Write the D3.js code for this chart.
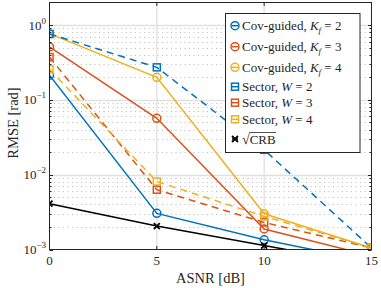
<!DOCTYPE html>
<html>
<head>
<meta charset="utf-8">
<script src="https://cdn.jsdelivr.net/npm/d3@7"></script>
<style>
  body { margin: 0; background: #fff; }
  text { font-family: "Liberation Serif", "DejaVu Serif", serif; fill: #262626; }
</style>
</head>
<body>
<div id="chart"></div>
<script>
// data
var asnr = [0, 5, 10, 15];
var covK2 = [0.213, 0.00304, 0.00135, 0.00069];
var covK3 = [0.509, 0.0566, 0.00188, 0.00082];
var covK4 = [0.767, 0.200, 0.0030, 0.00105];
var secW2 = [0.76, 0.272, 0.0215, 0.00105];
var secW3 = [0.373, 0.0063, 0.0023, 0.00105];
var secW4 = [0.256, 0.0081, 0.00277, 0.00105];
var crb = [0.0041, 0.00206, 0.00113, 0.00062];
var xTicks = [0, 5, 10, 15];
var yTicks = [1e-3, 1e-2, 1e-1, 1];
var yTickExp = ["−3", "−2", "−1", "0"];

var series = [
  { name: "cov", k: "2", vals: covK2, color: "#0072BD", dash: null, mark: "circle" },
  { name: "cov", k: "3", vals: covK3, color: "#D95319", dash: null, mark: "circle" },
  { name: "cov", k: "4", vals: covK4, color: "#EDB120", dash: null, mark: "circle" },
  { name: "sec", k: "2", vals: secW2, color: "#0072BD", dash: "7,5", mark: "square" },
  { name: "sec", k: "3", vals: secW3, color: "#D95319", dash: "7,5", mark: "square" },
  { name: "sec", k: "4", vals: secW4, color: "#EDB120", dash: "7,5", mark: "square" },
  { name: "crb", k: "", vals: crb, color: "#000000", dash: null, mark: "cross" }
];

var svgWidth = 381, svgHeight = 288;
var x0 = 49.5, x1 = 371.5, yTop = 2.5, yBot = 249.5;

var svg = d3.select("#chart").append("svg")
  .attr("width", svgWidth).attr("height", svgHeight);

var x = d3.scaleLinear().domain([0, 15]).range([x0, x1]);
var y = d3.scaleLog().domain([1e-3, 2]).range([yBot, yTop]);

// minor grid (dotted) and major grid
var minors = [];
[1e-3, 1e-2, 1e-1, 1].forEach(function(d) {
  for (var m = 2; m <= 9; m++) if (d * m < 2) minors.push(d * m);
});
svg.append("g").selectAll("line").data(minors).enter().append("line")
  .attr("x1", x0).attr("x2", x1)
  .attr("y1", d => Math.round(y(d)) + 0.5).attr("y2", d => Math.round(y(d)) + 0.5)
  .attr("stroke", "#bdbdbd").attr("stroke-width", 1).attr("stroke-dasharray", "1,3.5");

svg.append("g").selectAll("line").data(yTicks.slice(1)).enter().append("line")
  .attr("x1", x0).attr("x2", x1)
  .attr("y1", d => Math.round(y(d)) + 0.5).attr("y2", d => Math.round(y(d)) + 0.5)
  .attr("stroke", "#e0e0e0").attr("stroke-width", 1.3);
svg.append("g").selectAll("line").data([5, 10]).enter().append("line")
  .attr("y1", yTop).attr("y2", yBot)
  .attr("x1", d => x(d)).attr("x2", d => x(d))
  .attr("stroke", "#e0e0e0").attr("stroke-width", 1.3);

// lines and markers, clipped to the axes box
svg.append("clipPath").attr("id", "clip").append("rect")
  .attr("x", x0).attr("y", yTop).attr("width", x1 - x0).attr("height", yBot - yTop);
var plot = svg.append("g").attr("clip-path", "url(#clip)");

var line = d3.line().x((d, i) => x(asnr[i])).y(d => y(d));

function drawMarker(g, type, color, cx, cy) {
  if (type === "circle") {
    g.append("circle").attr("cx", cx).attr("cy", cy).attr("r", 4)
      .attr("fill", "none").attr("stroke", color).attr("stroke-width", 1.5);
  } else if (type === "square") {
    g.append("rect").attr("x", cx - 3.5).attr("y", cy - 3.5).attr("width", 7).attr("height", 7)
      .attr("fill", "none").attr("stroke", color).attr("stroke-width", 1.5);
  } else {
    g.append("path").attr("d", `M${cx - 3},${cy - 3}L${cx + 3},${cy + 3}M${cx - 3},${cy + 3}L${cx + 3},${cy - 3}`)
      .attr("stroke", color).attr("stroke-width", 1.8);
  }
}

series.forEach(function(s) {
  plot.append("path").datum(s.vals)
    .attr("d", line)
    .attr("fill", "none")
    .attr("stroke", s.color)
    .attr("stroke-width", 1.5)
    .attr("stroke-dasharray", s.dash);
  s.vals.forEach(function(v, i) {
    drawMarker(plot, s.mark, s.color, x(asnr[i]), y(v));
  });
});

// axes box with inward ticks
var ax = svg.append("g").attr("stroke", "#262626").attr("stroke-width", 1);
ax.append("rect").attr("x", x0).attr("y", yTop).attr("width", x1 - x0).attr("height", yBot - yTop)
  .attr("fill", "none");
xTicks.forEach(function(t) {
  ax.append("line").attr("x1", x(t)).attr("x2", x(t)).attr("y1", yBot).attr("y2", yBot - 3.5);
  ax.append("line").attr("x1", x(t)).attr("x2", x(t)).attr("y1", yTop).attr("y2", yTop + 3.5);
});
yTicks.forEach(function(t) {
  var yy = Math.round(y(t)) + 0.5;
  ax.append("line").attr("x1", x0).attr("x2", x0 + 3.5).attr("y1", yy).attr("y2", yy);
  ax.append("line").attr("x1", x1).attr("x2", x1 - 3.5).attr("y1", yy).attr("y2", yy);
});
minors.forEach(function(t) {
  var yy = Math.round(y(t)) + 0.5;
  ax.append("line").attr("x1", x0).attr("x2", x0 + 2).attr("y1", yy).attr("y2", yy);
  ax.append("line").attr("x1", x1).attr("x2", x1 - 2).attr("y1", yy).attr("y2", yy);
});

// tick labels
svg.append("g").selectAll("text").data(xTicks).enter().append("text")
  .attr("x", d => x(d)).attr("y", 265)
  .attr("text-anchor", "middle").attr("font-size", 13)
  .text(d => d);

yTicks.forEach(function(t, i) {
  var txt = svg.append("text").attr("x", 46).attr("y", y(t) + 4.5)
    .attr("text-anchor", "end").attr("font-size", 13);
  txt.append("tspan").text("10");
  txt.append("tspan").attr("dy", -6).attr("font-size", 9).text(yTickExp[i]);
});

// axis titles
svg.append("text").attr("x", (x0 + x1) / 2).attr("y", 283)
  .attr("text-anchor", "middle").attr("font-size", 14.5).text("ASNR [dB]");
svg.append("text")
  .attr("transform", `translate(18, ${(yTop + yBot) / 2 - 3}) rotate(-90)`)
  .attr("text-anchor", "middle").attr("font-size", 14.5).text("RMSE [rad]");

// legend
var leg = svg.append("g");
leg.append("rect").attr("x", 225.5).attr("y", 13.5).attr("width", 134.5).attr("height", 139)
  .attr("fill", "#fff").attr("stroke", "#262626").attr("stroke-width", 1);
var rowY = [25.7, 46.7, 67.3, 86.7, 102.7, 119.3, 139];
series.forEach(function(s, i) {
  var cy = rowY[i];
  leg.append("line").attr("x1", 232).attr("x2", 238).attr("y1", cy).attr("y2", cy)
    .attr("stroke", s.color).attr("stroke-width", 1.5);
  drawMarker(leg, s.mark, s.color, 235, cy);
  var t = leg.append("text").attr("x", 242).attr("y", cy + 4.5).attr("font-size", 13);
  if (s.name === "cov") {
    t.append("tspan").text("Cov-guided, ");
    t.append("tspan").attr("font-style", "italic").text("K");
    t.append("tspan").attr("font-style", "italic").attr("font-size", 9).attr("dy", 3).text("f");
    t.append("tspan").attr("dy", -3).text(" = " + s.k);
  } else if (s.name === "sec") {
    t.append("tspan").text("Sector, ");
    t.append("tspan").attr("font-style", "italic").text("W");
    t.append("tspan").text(" = " + s.k);
  } else {
    t.append("tspan").attr("font-size", 14).text("√");
    t.append("tspan").text("CRB");
    var bb = t.node().getBBox();
    var sq = t.node().getSubStringLength(0, 1);
    leg.append("line").attr("x1", bb.x + sq - 0.5).attr("x2", bb.x + bb.width)
      .attr("y1", cy - 6.5).attr("y2", cy - 6.5)
      .attr("stroke", "#262626").attr("stroke-width", 0.8);
  }
});
</script>
</body>
</html>
